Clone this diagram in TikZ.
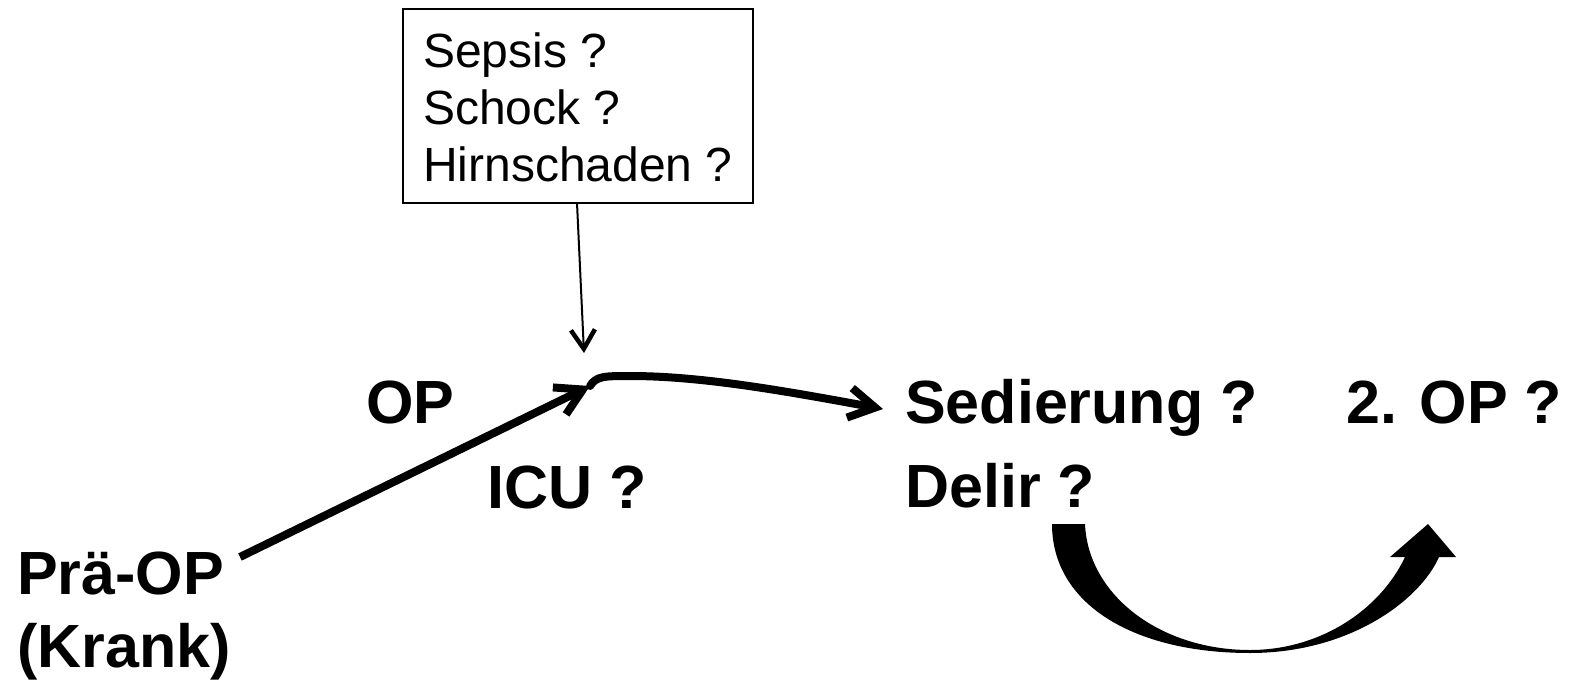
\documentclass[tikz,border=0pt]{standalone}
\usepackage{fontspec}
\setmainfont{Liberation Sans}
\usetikzlibrary{arrows.meta}
\begin{document}
\begin{tikzpicture}[x=1pt,y=-1pt,
  big/.style={anchor=base west,inner sep=0pt,font=\fontsize{61}{73}\selectfont\bfseries,align=left},
  small/.style={anchor=base west,inner sep=0pt,font=\fontsize{48}{57}\selectfont,align=left},
  frame/.style={draw,line width=2pt},
  thinarrow/.style={line width=2pt,-{Straight Barb[length=19pt,width=24pt,line width=4.5pt]}},
  thickarrow/.style={line width=8pt,-{Straight Barb[length=26pt,width=30pt,line width=8pt]}}]
\useasboundingbox (0,0) rectangle (1573,680);

% question box
\draw[frame] (403,9) rectangle (753,203);
\node[small] (sep) at (423,67) {Sepsis ?};
\node[small] (sch) at (423,124) {Schock ?};
\node[small] (hir) at (423,181) {Hirnschaden ?};
\coordinate (boxfoot) at (577,203);

% labels
\node[big] (pre) at (17,594) {Prä-OP};
\node[big] (krank) at (17,667) {(Krank)};
\node[big] (op) at (366,423) {OP};
\node[big] (icu) at (487,508) {ICU ?};
\node[big] (sed) at (905,423) {Sedierung ?};
\node[big] (del) at (905,507) {Delir ?};
\node[big] (op2) at (1346,423) {2. OP ?};

% path points
\coordinate (start) at (240,557);
\coordinate (joint) at (590,386);
\coordinate (hint) at (584,353);
\coordinate (goal) at (883,409);

\draw[thinarrow] (boxfoot) -- (hint);
\draw[thickarrow] (start) -- (joint);
\draw[thickarrow,line cap=round] (joint) .. controls (596,376) and (605,376) .. (630,376)
  .. controls (700,376) and (780,390) .. (goal);

% curved block arrow
\fill (1052,524) .. controls (1052,605) and (1135,653) .. (1250,653)
  .. controls (1350,653) and (1420,600) .. (1439,557)
  -- (1456,557) -- (1428,524) -- (1390,557) -- (1405,557)
  .. controls (1380,610) and (1320,650) .. (1250,650)
  .. controls (1160,650) and (1088,595) .. (1085,524) -- cycle;
\end{tikzpicture}
\end{document}
